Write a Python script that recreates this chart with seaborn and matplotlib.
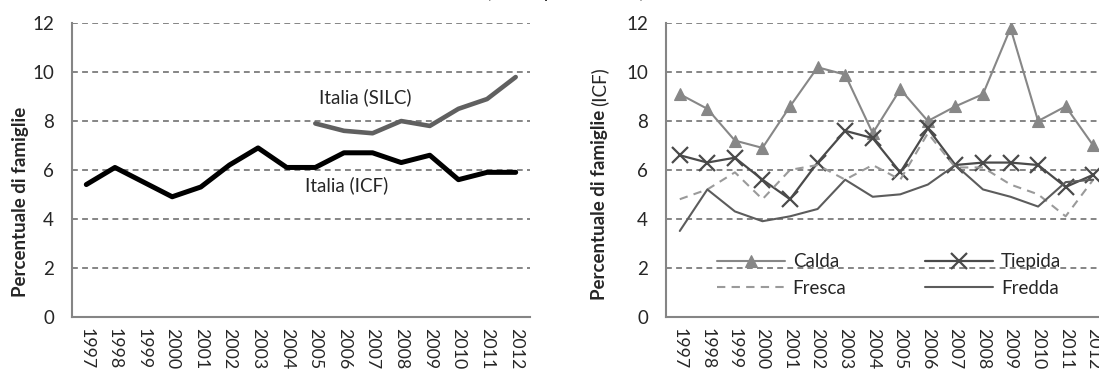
import numpy as np
import pandas as pd
import matplotlib
matplotlib.use("Agg")
import matplotlib.pyplot as plt
import seaborn as sns

# ---------------- data ----------------
years = list(range(1997, 2013))
year_labels = [str(y) for y in years]
icf = [5.4, 6.1, 5.5, 4.9, 5.3, 6.2, 6.9, 6.1, 6.1, 6.7, 6.7, 6.3, 6.6, 5.6, 5.9, 5.9]
silc_years = list(range(2005, 2013))
silc = [7.9, 7.6, 7.5, 8.0, 7.8, 8.5, 8.9, 9.8]

calda = [9.1, 8.5, 7.2, 6.9, 8.6, 10.2, 9.9, 7.5, 9.3, 8.0, 8.6, 9.1, 11.8, 8.0, 8.6, 7.0]
tiepida = [6.6, 6.3, 6.5, 5.6, 4.8, 6.3, 7.6, 7.3, 5.9, 7.7, 6.2, 6.3, 6.3, 6.2, 5.3, 5.8]
fresca = [4.8, 5.2, 5.9, 4.8, 6.0, 6.2, 5.6, 6.2, 5.6, 7.5, 6.1, 6.1, 5.4, 5.0, 4.1, 5.6]
fredda = [3.5, 5.2, 4.3, 3.9, 4.1, 4.4, 5.6, 4.9, 5.0, 5.4, 6.2, 5.2, 4.9, 4.5, 5.5, 5.6]

yticks = [0, 2, 4, 6, 8, 10, 12]

# ---------------- style ----------------
sns.set_style("white")
plt.rcParams["font.family"] = ["Lato", "DejaVu Sans"]

W, H = 1099, 372
fig = plt.figure(figsize=(W / 100, H / 100), dpi=100)

bottom = (H - 316.5) / H
height = (316.5 - 23.3) / H
ax1 = fig.add_axes([72 / W, bottom, 458 / W, height])
ax2 = fig.add_axes([666 / W, bottom, 441 / W, height])

GRID = "#858585"
FS = 13.5
XFS = 12.8


def style_axes(ax):
    ax.set_xlim(1996.5, 2012.5)
    ax.set_ylim(0, 12)
    ax.set_yticks(yticks)
    ax.set_yticklabels([str(v) for v in yticks], fontsize=FS)
    ax.set_xticks(years)
    ax.set_xticklabels(year_labels, rotation=-90, fontsize=XFS)
    ax.set_xticks(np.arange(1996.5, 2013.0, 1.0), minor=True)
    ax.tick_params(axis="y", length=0, pad=13)
    ax.tick_params(axis="x", which="major", length=0, pad=8)
    ax.tick_params(axis="x", which="minor", direction="in", length=3.2,
                   width=1.4, color=GRID)
    for s in ["top", "right"]:
        ax.spines[s].set_visible(False)
    for s in ["left", "bottom"]:
        ax.spines[s].set_color(GRID)
        ax.spines[s].set_linewidth(1.5)
    ax.yaxis.grid(True, linestyle=(0, (3, 2.2)), color=GRID, linewidth=1.4)
    ax.xaxis.grid(False)
    ax.set_axisbelow(True)
    ax.set_xlabel("")
    ax.set_ylabel("")


# ---------------- left chart ----------------
df_icf = pd.DataFrame({"anno": years, "valore": icf})
df_silc = pd.DataFrame({"anno": silc_years, "valore": silc})
sns.lineplot(data=df_icf, x="anno", y="valore", ax=ax1, color="black",
             linewidth=3.6, legend=False)
sns.lineplot(data=df_silc, x="anno", y="valore", ax=ax1, color="#606060",
             linewidth=3.3, legend=False)
style_axes(ax1)
ax1.text(2004.64, 5.38, "Italia (ICF)", fontsize=FS, ha="left", va="center")
ax1.text(2005.13, 8.98, "Italia (SILC)", fontsize=FS, ha="left", va="center")

# ---------------- right chart ----------------
series = [
    ("Calda", calda, dict(color="#878787", marker="^", markersize=9,
                          markeredgecolor="#878787", markeredgewidth=0.8,
                          linewidth=1.5)),
    ("Tiepida", tiepida, dict(color="#4a4a4a", marker="x", markersize=11,
                              markeredgecolor="#4a4a4a", markeredgewidth=1.6,
                              linewidth=1.6)),
    ("Fresca", fresca, dict(color="#9a9a9a", linestyle=(0, (4, 3)), linewidth=1.5)),
    ("Fredda", fredda, dict(color="#5c5c5c", linewidth=1.5)),
]
handles = {}
for name, vals, kw in series:
    d = pd.DataFrame({"anno": years, "valore": vals})
    sns.lineplot(data=d, x="anno", y="valore", ax=ax2, legend=False, label=name, **kw)
    handles[name] = ax2.get_lines()[-1]
style_axes(ax2)

order = ["Calda", "Fresca", "Tiepida", "Fredda"]
ax2.legend([handles[n] for n in order], order, ncol=2, loc="upper left",
           bbox_to_anchor=(0.116, 0.215), frameon=False, fontsize=FS,
           handlelength=3.6, handletextpad=0.43, columnspacing=4.2,
           labelspacing=0.5, borderpad=0, borderaxespad=0, numpoints=1)

# ---------------- y labels ----------------
fig.text(21 / W, (H - 297) / H, "Percentuale di famiglie", rotation=90,
         fontsize=FS, fontweight="bold", ha="center", va="bottom")
t_bold = fig.text(599 / W, (H - 300) / H, "Percentuale di famiglie", rotation=90,
                  fontsize=FS, fontweight="bold", ha="center", va="bottom")
fig.canvas.draw()
bb = t_bold.get_window_extent(renderer=fig.canvas.get_renderer())
fig.text(599 / W, (bb.y1 + 4) / H, "(ICF)", rotation=90, fontsize=FS,
         ha="center", va="bottom")

# title clipped by the top edge, as in the reference
fig.text(565 / W, 1.0 + 2.0 / H, "(valori percentuali)", fontsize=14,
         ha="center", va="baseline")

fig.savefig("out.png", dpi=100)
